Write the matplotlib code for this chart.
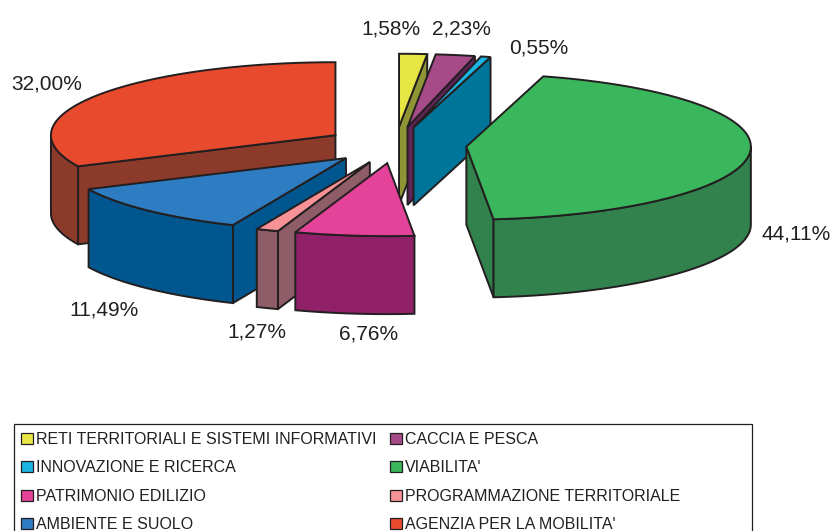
import numpy as np
import matplotlib
matplotlib.use("Agg")
import matplotlib.pyplot as plt
from matplotlib.patches import Polygon, Rectangle

plt.rcParams['font.family'] = ['Liberation Sans', 'DejaVu Sans']

categories = ["RETI TERRITORIALI E SISTEMI INFORMATIVI", "CACCIA E PESCA",
              "INNOVAZIONE E RICERCA", "VIABILITA'",
              "PATRIMONIO EDILIZIO", "PROGRAMMAZIONE TERRITORIALE",
              "AMBIENTE E SUOLO", "AGENZIA PER LA MOBILITA'"]
values = [1.58, 2.23, 0.55, 44.11, 6.76, 1.27, 11.49, 32.00]
top_colors = ["#e8e645", "#a64b87", "#1cb4e4", "#3ab65c",
              "#e5429a", "#f79397", "#2e7cc1", "#e84a2d"]
side_colors = ["#8f9434", "#5e2357", "#00759a", "#32824e",
               "#902168", "#8f5d68", "#00578f", "#8c3a2a"]
label_xy = [(391, 29), (461, 29), (539, 48), (796, 234),
            (369, 334), (257, 332), (104, 310), (47, 84)]
draw_order = [0, 1, 2, 3, 7, 6, 5, 4]

CX, CY, RX, RY, DEPTH, EXPLODE = 395.5, 145, 284.5, 73, 78, 0.25
EDGE = "#231f20"
LW = 1.4

fig = plt.figure(figsize=(8.32, 5.31), dpi=100)
ax = fig.add_axes([0, 0, 1, 1])
ax.set_xlim(0, 832)
ax.set_ylim(531, 0)
ax.axis("off")

total = sum(values)
bounds = np.concatenate([[0], np.cumsum(values)]) / total * 2 * np.pi


def rim(ox, oy, a, dz=0):
    return np.column_stack([ox + RX * np.sin(a), oy - RY * np.cos(a) + dz])


def wall(pts, color, z):
    ax.add_patch(Polygon(pts, closed=True, facecolor=color, edgecolor=EDGE,
                         linewidth=LW, joinstyle="miter", zorder=z))


for rank, i in enumerate(draw_order):
    a1, a2 = bounds[i], bounds[i + 1]
    mid = (a1 + a2) / 2
    ox = CX + EXPLODE * RX * np.sin(mid)
    oy = CY - EXPLODE * RY * np.cos(mid)
    apex = np.array([[ox, oy]])
    z = 2 + rank * 0.1
    # radial walls turned towards the viewer
    for a, visible in ((a1, np.sin(a1) < -1e-6), (a2, np.sin(a2) > 1e-6)):
        if visible:
            p = rim(ox, oy, np.array([a]))
            wall(np.vstack([apex, p, p + [0, DEPTH], apex + [0, DEPTH]]),
                 side_colors[i], z)
    # outer wall on the front half of the ellipse
    lo, hi = max(a1, np.pi / 2), min(a2, 3 * np.pi / 2)
    if hi > lo:
        t = np.linspace(lo, hi, 80)
        wall(np.vstack([rim(ox, oy, t), rim(ox, oy, t[::-1], DEPTH)]),
             side_colors[i], z + 0.01)
    # top face
    t = np.linspace(a1, a2, 120)
    wall(np.vstack([apex, rim(ox, oy, t)]), top_colors[i], z + 0.02)

for v, (x, y) in zip(values, label_xy):
    ax.text(x, y, f"{v:.2f}".replace(".", ",") + "%", ha="center", va="center",
            fontsize=15, color="#231f20", zorder=10)

# legend
ax.add_patch(Rectangle((14, 424), 738, 130, facecolor="white", edgecolor="#231f20",
                       linewidth=0.9, zorder=5))
col_x = [21, 390]
row_y = [438, 466, 495, 523]
for k, name in enumerate(categories):
    x, y = col_x[k % 2], row_y[k // 2]
    ax.add_patch(Rectangle((x, y - 5.5), 12, 11, facecolor=top_colors[k],
                           edgecolor="#231f20", linewidth=0.9, zorder=6))
    ax.text(x + 15, y + 1.5, name, ha="left", va="center", fontsize=11.5,
            color="#231f20", zorder=6)

fig.savefig("out.png", dpi=100)
